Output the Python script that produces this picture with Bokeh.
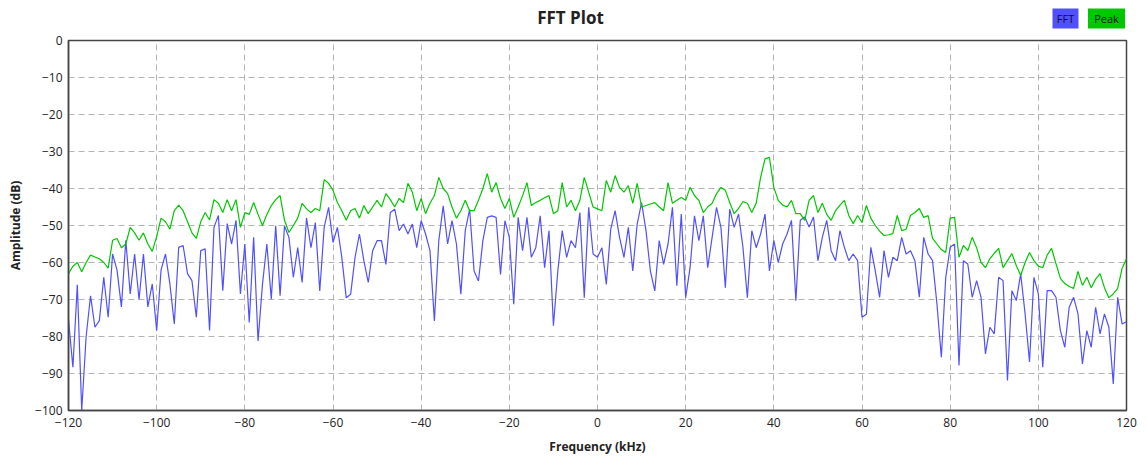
from bokeh.plotting import figure
from bokeh.layouts import column
from bokeh.models import FixedTicker, Range1d
from bokeh.core.properties import value
from bokeh.embed import file_html
from bokeh.resources import INLINE

freq_khz = list(range(-120, 121))

fft_db = [
    -75.5, -88.3, -66.0, -100.0, -80.0, -69.0, -77.5, -75.7, -64.0, -74.8,
    -57.7, -62.0, -72.0, -54.0, -68.5, -57.7, -70.0, -57.7, -72.0, -65.8,
    -78.4, -62.0, -57.7, -65.8, -76.6, -55.9, -55.4, -63.0, -64.9, -74.8,
    -56.8, -56.3, -78.4, -50.5, -47.3, -67.6, -49.5, -55.0, -48.6, -68.5,
    -55.0, -76.2, -53.2, -81.2, -65.9, -55.0, -69.9, -50.1, -69.0, -50.1,
    -53.2, -64.0, -56.0, -65.4, -48.0, -56.0, -49.2, -67.7, -50.5, -45.1,
    -54.6, -50.5, -58.6, -69.5, -68.6, -58.6, -52.3, -59.5, -65.4, -56.8,
    -54.1, -54.1, -60.5, -46.5, -45.6, -51.4, -49.6, -52.3, -49.6, -56.0,
    -48.7, -52.3, -56.8, -75.8, -54.1, -44.7, -55.0, -48.7, -55.0, -68.6,
    -51.4, -45.6, -62.3, -65.0, -54.1, -47.8, -47.4, -47.8, -63.2, -48.7,
    -53.2, -71.3, -47.8, -56.8, -47.8, -58.6, -56.0, -47.4, -61.4, -51.4,
    -77.1, -62.3, -51.4, -58.6, -54.1, -56.0, -46.5, -69.5, -45.1, -57.7,
    -58.6, -56.0, -65.9, -51.0, -46.0, -53.2, -58.6, -50.5, -62.3, -49.6,
    -43.8, -51.4, -62.3, -67.7, -54.1, -60.5, -55.0, -45.1, -66.3, -46.9,
    -69.5, -61.4, -47.4, -54.1, -47.4, -61.4, -53.2, -45.1, -50.5, -66.8,
    -45.6, -50.5, -46.9, -56.0, -69.5, -51.4, -56.0, -52.3, -46.9, -62.3,
    -54.0, -60.0, -55.0, -52.3, -48.6, -70.3, -48.6, -47.7, -50.4, -47.7,
    -59.5, -53.2, -48.6, -56.8, -59.5, -51.4, -55.9, -59.5, -57.7, -59.5,
    -74.8, -74.0, -55.9, -62.2, -69.4, -56.8, -64.0, -58.6, -59.5, -53.2,
    -57.7, -56.8, -59.5, -69.4, -53.2, -57.7, -59.5, -71.2, -85.6, -64.0,
    -55.9, -55.0, -87.8, -59.5, -60.4, -69.4, -64.9, -69.4, -84.7, -77.5,
    -79.3, -64.0, -64.9, -91.9, -67.6, -70.3, -63.1, -73.9, -86.9, -64.0,
    -68.5, -88.3, -67.6, -67.6, -69.4, -78.4, -82.9, -72.1, -69.4, -73.9,
    -87.4, -78.4, -82.9, -72.1, -79.3, -73.9, -77.5, -92.8, -69.4, -76.6,
    -76.0,
]

peak_db = [
    -63.0, -61.0, -60.0, -62.5, -60.0, -58.0, -58.5, -59.0, -60.0, -61.5,
    -54.0, -53.5, -56.0, -55.0, -50.5, -52.0, -54.0, -52.0, -55.0, -57.0,
    -53.0, -48.0, -49.0, -51.0, -46.0, -44.5, -46.0, -49.0, -52.0, -53.5,
    -49.0, -46.5, -48.5, -43.0, -44.0, -46.5, -43.0, -46.0, -43.0, -50.5,
    -46.5, -47.0, -43.8, -47.0, -50.0, -47.0, -44.6, -43.0, -41.9, -48.6,
    -51.9, -50.0, -48.0, -44.0, -45.5, -46.5, -45.4, -46.0, -37.6, -38.6,
    -40.5, -43.8, -46.0, -48.6, -46.0, -45.4, -48.0, -44.6, -46.8, -45.0,
    -43.2, -45.0, -41.4, -43.0, -45.0, -42.7, -43.8, -38.6, -41.0, -46.0,
    -42.7, -46.8, -44.0, -41.9, -37.0, -40.0, -41.4, -45.0, -48.0, -46.0,
    -43.2, -46.0, -46.0, -43.2, -40.0, -36.0, -41.0, -38.4, -42.7, -45.4,
    -42.7, -47.8, -45.0, -42.0, -38.4, -44.6, -43.8, -43.2, -42.5, -41.9,
    -46.8, -46.0, -38.4, -45.0, -43.2, -46.0, -43.2, -37.0, -41.0, -45.0,
    -45.5, -46.0, -37.8, -41.0, -36.5, -39.7, -41.0, -39.2, -44.0, -38.6,
    -45.0, -44.6, -44.2, -43.8, -45.0, -46.0, -38.4, -44.0, -43.2, -42.4,
    -43.2, -39.7, -41.9, -43.2, -46.5, -45.0, -44.0, -41.4, -39.7, -40.5,
    -43.8, -46.8, -45.4, -43.5, -44.0, -46.5, -44.0, -37.0, -32.0, -31.6,
    -39.7, -43.2, -44.5, -45.0, -43.2, -46.8, -46.8, -48.6, -43.2, -41.9,
    -46.5, -44.0, -47.0, -48.6, -46.0, -44.5, -43.2, -47.3, -49.5, -47.3,
    -49.2, -44.6, -48.0, -50.0, -51.5, -52.7, -52.5, -52.2, -47.3, -51.4,
    -51.0, -47.3, -46.5, -45.4, -47.8, -47.3, -53.5, -55.0, -56.5, -57.3,
    -48.0, -47.8, -58.6, -55.4, -56.8, -53.2, -56.0, -60.0, -61.4, -59.0,
    -57.5, -56.2, -61.4, -59.5, -57.6, -60.8, -63.5, -60.0, -57.3, -59.5,
    -61.0, -61.4, -58.0, -56.2, -60.3, -64.3, -65.7, -66.5, -67.0, -62.4,
    -66.2, -64.0, -66.8, -64.5, -63.0, -66.8, -69.5, -68.5, -67.0, -61.6,
    -59.0,
]

x_ticks = [-120, -100, -80, -60, -40, -20, 0, 20, 40, 60, 80, 100, 120]
y_ticks = [0, -10, -20, -30, -40, -50, -60, -70, -80, -90, -100]

title_text = "FFT Plot"
legend_names = ["FFT", "Peak"]
legend_colors = ["#5050ff", "#00c800"]

FONT = "Open Sans"
W = 1147
BL, BR = 68, 21          # left / right borders around the plot frame

# ---- header strip: title + legend boxes, laid out in page pixels ----
header = figure(width=W, height=32, x_range=Range1d(BL, W - BR), y_range=Range1d(32, 0),
                x_axis_type=None, y_axis_type=None,
                toolbar_location=None, output_backend="svg",
                min_border_left=BL, min_border_right=BR,
                min_border_top=0, min_border_bottom=0)
header.grid.visible = False
header.outline_line_color = None
header.background_fill_color = "white"
header.border_fill_color = "white"

header.text(x=[570], y=[17], text=[title_text], text_font=value(FONT),
            text_font_size="17px", text_font_style="bold", text_color="#222222",
            text_align="center", text_baseline="middle")

leg_x = [1065, 1106]
leg_w = [26, 37]
header.rect(x=leg_x, y=[18, 18], width=leg_w, height=[20, 20],
            fill_color=legend_colors, line_color=None)
header.text(x=leg_x, y=[18, 18], text=legend_names, text_font=value(FONT),
            text_font_size="11px", text_color="#111111",
            text_align="center", text_baseline="middle")

# ---- main plot ----
p = figure(width=W, height=426, output_backend="svg",
           toolbar_location=None, x_range=(-120, 120), y_range=(-100, 0),
           min_border_left=BL, min_border_right=BR, min_border_top=8,
           min_border_bottom=48)

p.line(freq_khz, fft_db, line_color="#5050ff", line_width=1.2)
p.line(freq_khz, peak_db, line_color="#00c800", line_width=1.2)

p.xaxis.ticker = FixedTicker(ticks=x_ticks)
p.yaxis.ticker = FixedTicker(ticks=y_ticks)
for ax in (p.xaxis[0], p.yaxis[0]):
    ax.major_label_text_font = FONT
    ax.major_label_text_font_size = "12px"
    ax.major_label_text_color = "#222222"
    ax.axis_label_text_font = FONT
    ax.axis_label_text_font_size = "12px"
    ax.axis_label_text_font_style = "bold"
    ax.axis_label_text_color = "#222222"
    ax.major_tick_out = 0
    ax.major_tick_in = 0
    ax.minor_tick_out = 0
    ax.minor_tick_in = 0
    ax.axis_line_color = "#444444"
    ax.axis_line_width = 1.5

p.xaxis.major_label_standoff = 7
p.xaxis.axis_label_standoff = 8
p.yaxis.major_label_standoff = 6
p.yaxis.axis_label_standoff = 8

p.xaxis.axis_label = "Frequency (kHz)"
p.yaxis.axis_label = "Amplitude (dB)"

p.xgrid.ticker = FixedTicker(ticks=x_ticks)
p.ygrid.ticker = FixedTicker(ticks=y_ticks)
for g in (p.xgrid[0], p.ygrid[0]):
    g.grid_line_color = "#b4b4b4"
    g.grid_line_dash = "6 4"
    g.grid_line_width = 1

p.outline_line_color = "#444444"
p.outline_line_width = 1.5
p.background_fill_color = "white"
p.border_fill_color = "white"

layout = column(header, p, spacing=0)
open("out.html", "w").write(file_html(layout, INLINE))
